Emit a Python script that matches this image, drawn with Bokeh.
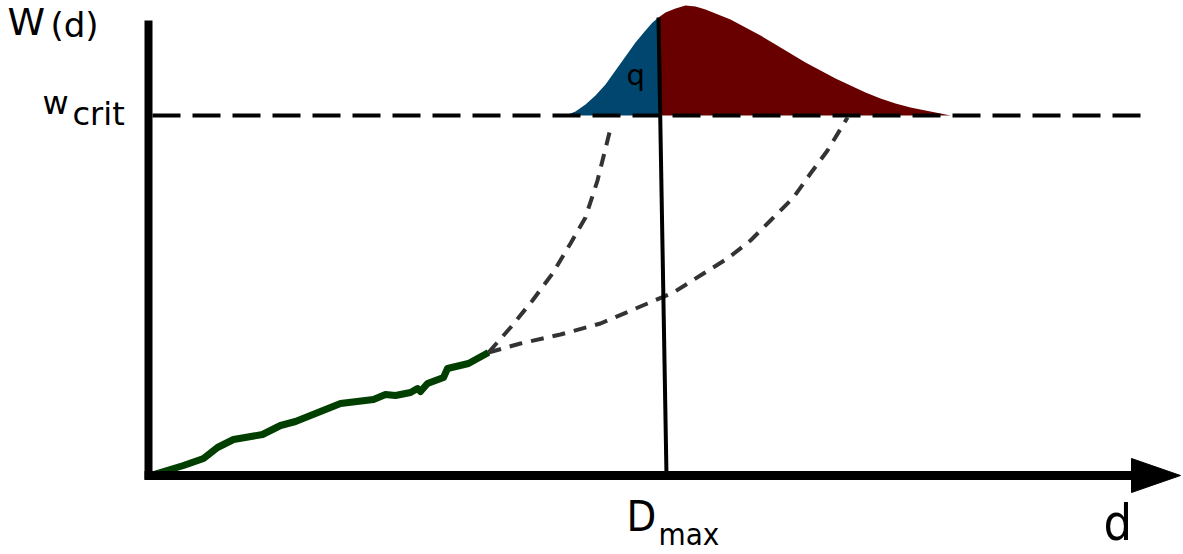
from bokeh.plotting import figure
from bokeh.models import Range1d
from bokeh.core.properties import value
from bokeh.embed import file_html
from bokeh.resources import INLINE

# ---- data (schematic units: d along x, W along y; origin at axis crossing) ----
w_crit = 360
d_max_top = 510
d_max_bottom = 518

# observed W(d) history (green)
hist_d = [2, 35, 55, 69, 85, 114, 132, 147, 192, 225, 237, 247, 262, 269, 272, 279, 295, 299, 320, 340]
hist_w = [0, 10, 17, 28, 36, 41, 50, 54, 72, 76, 81, 80, 83, 87, 84, 92, 98, 107, 112, 123]

# fast extrapolation (steep dashed)
fast_d = [340, 362, 384, 404, 422, 437, 449, 459, 462]
fast_w = [123, 148, 175, 202, 232, 258, 295, 335, 347]

# slow extrapolation (shallow dashed)
slow_d = [340, 372, 412, 452, 499, 525, 555, 579, 602, 622, 645, 662, 679, 699]
slow_w = [123, 132, 141, 152, 172, 183, 202, 217, 235, 255, 278, 302, 325, 358]

# distribution of crossing distance, drawn above w_crit
dist_d = [417, 427, 437, 447, 457, 467, 477, 487, 497, 504, 510,
          517, 527, 537, 547, 557, 567, 582, 597, 612, 627, 642, 657,
          672, 687, 702, 717, 732, 747, 762, 777, 792, 802]
dist_w = [360, 364, 371, 380, 391, 405, 419, 433, 445, 453, 458,
          463, 467, 470, 469, 466, 462, 456, 448, 440, 431, 422, 413,
          405, 397, 390, 383, 377, 372, 368, 365, 362, 360]
split = dist_d.index(d_max_top)
q_d, q_w = dist_d[:split + 1], dist_w[:split + 1]
r_d, r_w = dist_d[split:], dist_w[split:]

# axes geometry (in data units)
y_axis_top = 455
x_axis_end = 985
arrow_tip = 1032
arrow_half = 17
wcrit_end = 997

FONT = "DejaVu Sans"
FONT_C = "DejaVu Sans Condensed"

p = figure(width=1183, height=554, output_backend="svg", toolbar_location=None,
           x_range=Range1d(-148, 1035), y_range=Range1d(-79, 475),
           x_axis_type=None, y_axis_type=None, min_border=0)
p.outline_line_color = None
p.xgrid.visible = False
p.ygrid.visible = False
p.background_fill_color = "white"
p.border_fill_color = "white"

# distribution fills
p.varea(x=q_d, y1=[w_crit] * len(q_d), y2=q_w, fill_color="#00466e")
p.varea(x=r_d, y1=[w_crit] * len(r_d), y2=r_w, fill_color="#680000")

# w_crit threshold dashed line
p.line(x=[4, wcrit_end], y=[w_crit, w_crit], line_color="black", line_width=4,
       line_dash="28 12")

# extrapolations
p.line(x=fast_d, y=fast_w, line_color="#333333", line_width=4, line_dash="13 9")
p.line(x=slow_d, y=slow_w, line_color="#333333", line_width=4, line_dash="13 9")

# history
p.line(x=hist_d, y=hist_w, line_color="#003f00", line_width=7, line_join="round")

# D_max line
p.line(x=[d_max_top, d_max_bottom], y=[dist_w[split], 0], line_color="black", line_width=4)

# axes
p.line(x=[0, 0], y=[-4, y_axis_top], line_color="black", line_width=8)
p.line(x=[-4, x_axis_end], y=[0, 0], line_color="black", line_width=9)
p.patch(x=[x_axis_end - 2, x_axis_end - 2, arrow_tip], y=[arrow_half, -arrow_half, 0],
        fill_color="black", line_color="black")

# labels (vertically centred on y)
def label(x, y, t, size, font=FONT):
    p.text(x=[x], y=[y], text=[t], text_font=value(font), text_font_size=value(f"{size}px"),
           text_align="left", text_baseline="middle", text_color="black")

label(-141, 454, "W", 38)
label(-98, 451, "(d)", 34)
label(-106, 373, "w", 32)
label(-76, 362, "crit", 32)
label(478, 401, "q", 29)
label(478, -40, "D", 43, FONT_C)
label(510, -58, "max", 31, FONT_C)
label(955, -47, "d", 50, FONT_C)

open("out.html", "w").write(file_html(p, INLINE))
